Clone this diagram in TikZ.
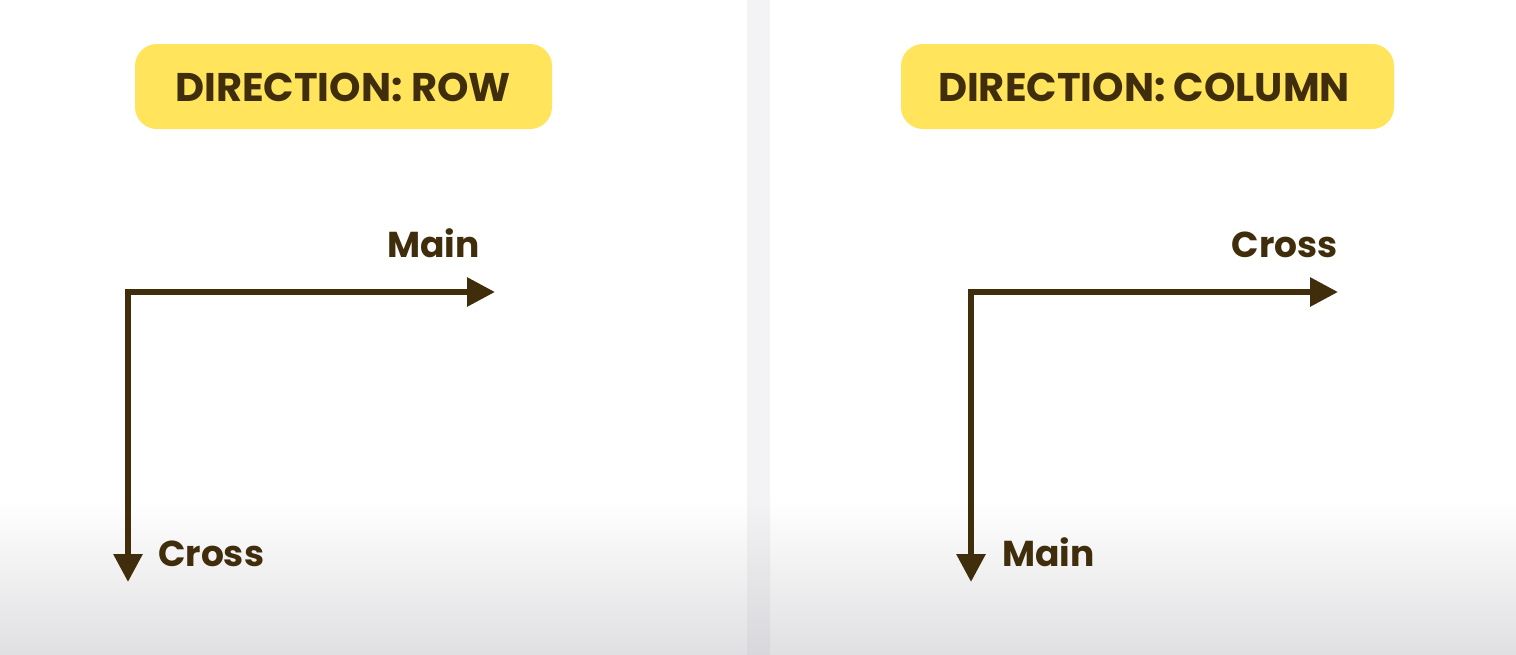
\documentclass[tikz,border=0pt]{standalone}
\usepackage{fontspec}
\setmainfont{Poppins}[BoldFont={* Bold}]
\usetikzlibrary{arrows.meta}
\definecolor{ink}{HTML}{3F2D0B}
\definecolor{badge}{HTML}{FFE45C}
\definecolor{floor}{HTML}{E0E0E2}
\definecolor{strip}{HTML}{F3F3F5}
\definecolor{stripdark}{HTML}{D8D8DC}
\tikzset{
  badgebox/.style={fill=badge, rounded corners=22pt},
  headline/.style={font=\fontsize{40}{46}\selectfont\bfseries, text=ink, inner sep=0pt},
  axislabel/.style={font=\fontsize{36}{42}\selectfont\bfseries, text=ink, inner sep=0pt},
  axisarrow/.style={draw=ink, line width=6pt, line join=miter,
    {Triangle[length=28pt,width=28pt]}-{Triangle[length=28pt,width=28pt]}},
}
\begin{document}
\begin{tikzpicture}[x=1pt,y=-1pt]
\useasboundingbox (0,0) rectangle (1516,654);
% background
\fill[white] (0,0) rectangle (1516,654);
\shade[top color=white, bottom color=floor] (0,500) rectangle (1516,654);
\fill[strip] (747,0) rectangle (770,500);
\shade[top color=strip, bottom color=stripdark] (747,500) rectangle (770,654);
% left panel
\fill[badgebox] (135,44) rectangle (552,129);
\node[headline] (h1) at (343,87.5) {DIRECTION: ROW};
\coordinate (o1) at (128,292);
\coordinate (m1) at (495,292);
\coordinate (c1) at (128,582);
\draw[axisarrow] (m1) -- (o1) -- (c1);
\node[axislabel, anchor=base east] (lm1) at (480,257) {Main};
\node[axislabel, anchor=base west] (lc1) at (158,566) {Cross};
% right panel
\fill[badgebox] (901,44) rectangle (1394,129);
\node[headline] (h2) at (1144,87.5) {DIRECTION: COLUMN};
\coordinate (o2) at (971,292);
\coordinate (m2) at (1338,292);
\coordinate (c2) at (971,582);
\draw[axisarrow] (m2) -- (o2) -- (c2);
\node[axislabel, anchor=base east] (lc2) at (1338,257) {Cross};
\node[axislabel, anchor=base west] (lm2) at (1002,566) {Main};
\end{tikzpicture}
\end{document}
